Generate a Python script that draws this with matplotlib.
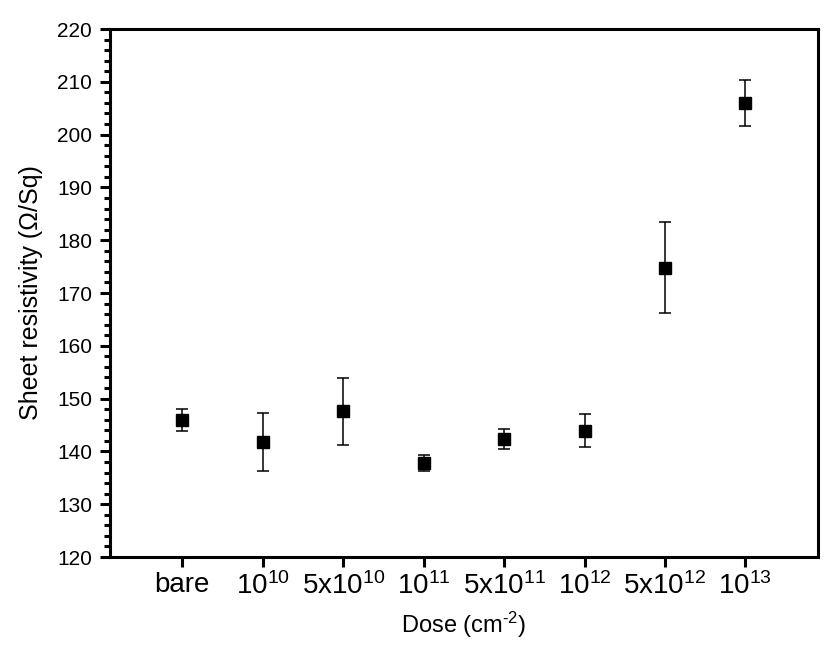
import matplotlib
matplotlib.use("Agg")
import matplotlib.pyplot as plt
from matplotlib.ticker import MultipleLocator

plt.rcParams['font.family'] = ['Liberation Sans', 'DejaVu Sans']
plt.rcParams['mathtext.fontset'] = 'custom'
plt.rcParams['mathtext.rm'] = 'Liberation Sans'
plt.rcParams['mathtext.it'] = 'Liberation Sans:italic'

doses = ['bare', r'$\mathregular{10^{10}}$', r'$\mathregular{5x10^{10}}$', r'$\mathregular{10^{11}}$',
         r'$\mathregular{5x10^{11}}$', r'$\mathregular{10^{12}}$', r'$\mathregular{5x10^{12}}$',
         r'$\mathregular{10^{13}}$']
resistivity = [146.0, 141.8, 147.6, 137.8, 142.3, 143.9, 174.8, 206.0]
error = [2.1, 5.5, 6.3, 1.5, 1.9, 3.1, 8.6, 4.3]

x = list(range(1, len(doses) + 1))

fig = plt.figure(figsize=(8.37, 6.55), dpi=100)
ax = fig.add_axes([0.1314, 0.1496, 0.8456, 0.8061])

ax.errorbar(x, resistivity, yerr=error, fmt='s', color='black', markersize=8,
            ecolor='black', elinewidth=1.1, capsize=4, capthick=1.1)

ax.set_xlim(0.1, 8.9)
ax.set_ylim(120, 220)
ax.set_xticks(x)
ax.set_xticklabels(doses, fontsize=20)
ax.yaxis.set_major_locator(MultipleLocator(10))
ax.yaxis.set_minor_locator(MultipleLocator(2))

for s in ax.spines.values():
    s.set_linewidth(2.2)
ax.tick_params(axis='both', which='major', direction='out', width=2.2, length=7)
ax.tick_params(axis='y', which='minor', direction='out', width=2.2, length=4)
ax.tick_params(axis='y', labelsize=15, pad=6)
ax.tick_params(axis='x', pad=4)

ax.set_xlabel(r'Dose (cm$^{\mathregular{\text{-}2}}$)', fontsize=17, labelpad=7)
ax.set_ylabel('Sheet resistivity (\u03a9/Sq)', fontsize=18, labelpad=10)

fig.savefig('out.png', dpi=100)
